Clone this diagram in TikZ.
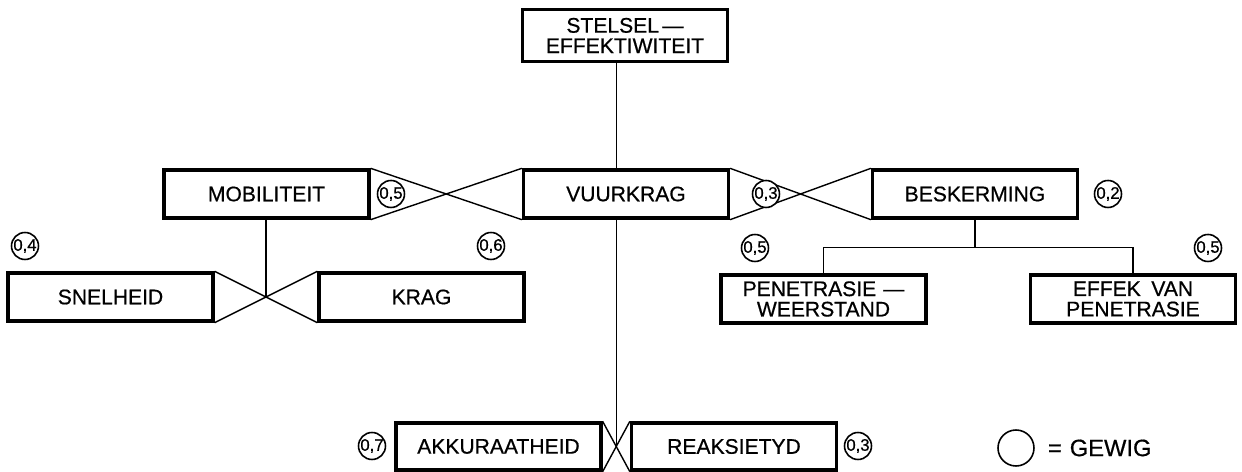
\documentclass[tikz,border=0pt]{standalone}
\usepackage{fontspec}
\setmainfont{Liberation Sans}[FakeBold=0.6]
\usetikzlibrary{calc, positioning}

\begin{document}
\begin{tikzpicture}[
    x=0.02cm, y=-0.02cm,
    every node/.style={font=\fontsize{12}{12}\selectfont},
    crit/.style={
        rectangle,
        draw=black,
        line width=1.9pt,
        fill=white,
        minimum width=4.1cm,
        minimum height=0.96cm,
        inner sep=1pt,
        align=center
    },
    twoline/.style={font=\fontsize{12}{11.6}\selectfont},
    weight/.style={
        circle,
        draw=black,
        line width=0.9pt,
        fill=white,
        minimum size=0.54cm,
        inner sep=0pt,
        font=\fontsize{9.5}{9.5}\selectfont
    },
    link/.style={line width=0.8pt}
]
\useasboundingbox (0,0) rectangle (1242,472);

% --- top level ---
\node (stelsel) [crit, twoline, minimum height=1.04cm, inner sep=0pt] at (625,35.5) {STELSEL\,---\\EFFEKTIWITEIT};

% --- first level ---
\node (mobiliteit) [crit] at (266.5,194) {MOBILITEIT};
\node (vuurkrag) [crit] at (626,194) {VUURKRAG};
\node (beskerming) [crit] at (975,194) {BESKERMING};

% --- second level ---
\node (snelheid) [crit] at (110.5,297) {SNELHEID};
\node (krag) [crit] at (421.5,297) {KRAG};
\node (penetrasie) [crit, twoline, inner sep=0pt] at (823.5,299) {PENETRASIE\,\,---\\WEERSTAND};
\node (effek) [crit, twoline, inner sep=0pt] at (1133,299) {EFFEK\,\,\,VAN\\PENETRASIE};
\node (akkuraatheid) [crit, minimum height=0.94cm] at (498.5,446.5) {AKKURAATHEID};
\node (reaksietyd) [crit, minimum height=0.94cm] at (734,446.5) {REAKSIETYD};

% --- connectors ---
\coordinate (lowcross) at ($(akkuraatheid.east)!0.5!(reaksietyd.west)$);
\coordinate (midcross) at ($(snelheid.east)!0.5!(krag.west)$);
\coordinate (bsplit) at ($(beskerming.south)+(0,28)$);

\draw [link] (stelsel.south -| lowcross) -- (vuurkrag.north -| lowcross);
\draw [link] (mobiliteit.north east) -- (vuurkrag.south west);
\draw [link] (mobiliteit.south east) -- (vuurkrag.north west);
\draw [link] (vuurkrag.north east) -- (beskerming.south west);
\draw [link] (vuurkrag.south east) -- (beskerming.north west);
\draw [link] (mobiliteit.south -| midcross) -- (midcross);
\draw [link] (snelheid.north east) -- (krag.south west);
\draw [link] (snelheid.south east) -- (krag.north west);
\draw [link] (vuurkrag.south -| lowcross) -- (lowcross);
\draw [link] (akkuraatheid.north east) -- (reaksietyd.south west);
\draw [link] (akkuraatheid.south east) -- (reaksietyd.north west);
\draw [link] (beskerming.south) -- (bsplit);
\draw [link] (penetrasie.north) |- (bsplit) -| (effek.north);

% --- weights ---
\node (wmob) [weight] at (391,194) {0,5};
\node (wbes) [weight] at (766,194) {0,3};
\node (wbes2) [weight] at (1108,194) {0,2};
\node (wsnel) [weight] at (25,246) {0,4};
\node (wkrag) [weight] at (491,246) {0,6};
\node (wpen) [weight] at (755,248) {0,5};
\node (weff) [weight] at (1208,248) {0,5};
\node (wakk) [weight] at (372,446) {0,7};
\node (wreak) [weight] at (858,446) {0,3};

% --- legend ---
\node (legcircle) [weight, minimum size=0.72cm] at (1016,448) {};
\node (legtext) [right=4pt of legcircle, font=\fontsize{13.5}{13.5}\selectfont] {=\,\,GEWIG};

\end{tikzpicture}
\end{document}
